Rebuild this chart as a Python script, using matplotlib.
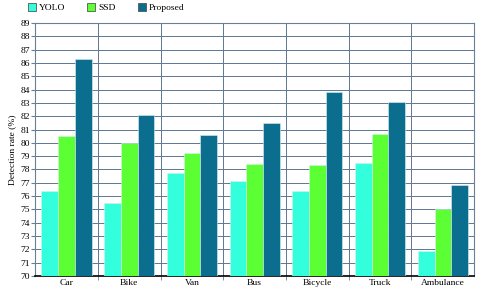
import numpy as np
import matplotlib.pyplot as plt
from matplotlib.patches import Patch

categories = ['Car', 'Bike', 'Van', 'Bus', 'Bicycle', 'Truck', 'Ambulance']
yolo = [76.4, 75.5, 77.7, 77.1, 76.4, 78.5, 71.9]
ssd = [80.5, 80.0, 79.25, 78.4, 78.3, 80.7, 75.0]
proposed = [86.3, 82.1, 80.6, 81.5, 83.8, 83.1, 76.8]

series_names = ['YOLO', 'SSD', 'Proposed']
colors = ['#33ffdd', '#5cff33', '#0b6e8f']

plt.rcParams['font.family'] = 'serif'
plt.rcParams['font.serif'] = ['Liberation Serif', 'DejaVu Serif']

fig = plt.figure(figsize=(4.8, 2.93), dpi=100)
ax = fig.add_axes([0.073, 0.058, 0.915, 0.8635])

x = np.arange(len(categories))
width = 0.8 / 3
for i, (vals, name, c) in enumerate(zip([yolo, ssd, proposed], series_names, colors)):
    ax.bar(x + (i - 1) * width, np.array(vals) - 70, bottom=70, width=width,
           color=c, edgecolor='#d8f0f0', linewidth=0.4, label=name, zorder=3)

ax.set_xlim(-0.5, len(categories) - 0.5)
ax.set_ylim(70, 89)
ax.set_yticks(np.arange(70, 90, 1))
ax.tick_params(axis='y', labelsize=6.8, length=3, color='#6a7f95', pad=0.5)
ax.set_xticks(x)
ax.set_xticklabels(categories)
ax.tick_params(axis='x', which='major', labelsize=6.8, length=0, pad=2.5)
ax.set_xticks(np.arange(0.5, len(categories) - 0.5, 1), minor=True)
ax.tick_params(axis='x', which='minor', length=3, color='#6a7f95')

ax.grid(axis='y', color='#5e7691', linewidth=0.7, zorder=0)
for b in np.arange(0.5, len(categories) - 0.5, 1):
    ax.axvline(b, color='#5e7691', linewidth=0.7, zorder=0)

for s in ['top', 'right', 'left']:
    ax.spines[s].set_color('#6a7f95')
    ax.spines[s].set_linewidth(0.8)
ax.spines['bottom'].set_color('black')
ax.spines['bottom'].set_linewidth(1.2)

ax.set_ylabel('Detection rate (%)', fontsize=6.8, labelpad=3)

handles = [Patch(facecolor=c, edgecolor='#555555', linewidth=0.6) for c in colors]
fig.legend(handles, series_names, loc='upper left', bbox_to_anchor=(0.04, 1.018),
           ncol=3, frameon=False, fontsize=6.8, handlelength=0.85, handleheight=0.85,
           columnspacing=2.3, handletextpad=0.35)

fig.savefig('out.png', dpi=100)
